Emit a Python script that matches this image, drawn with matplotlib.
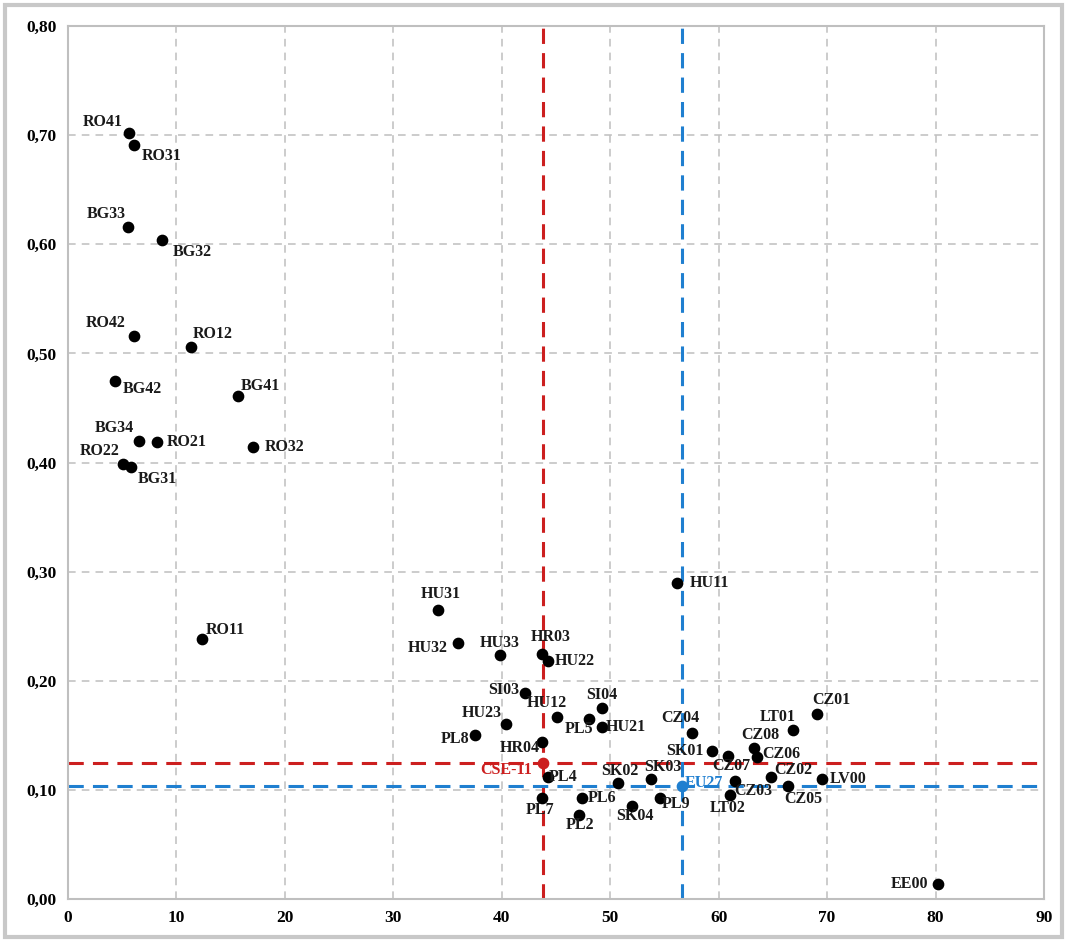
import numpy as np
import matplotlib
matplotlib.use('Agg')
import matplotlib.pyplot as plt
from matplotlib.ticker import FuncFormatter, MultipleLocator
from matplotlib.patches import Rectangle

# regions: x value, y value
regions = ['RO41', 'RO31', 'BG33', 'BG32', 'RO42', 'RO12', 'BG42', 'BG41', 'BG34', 'RO21',
           'RO32', 'RO22', 'BG31', 'RO11', 'HU31', 'HU32', 'HU33', 'HR03', 'HU22', 'HU11',
           'SI03', 'SI04', 'HU12', 'PL5', 'HU21', 'HU23', 'PL8', 'HR04', 'PL4', 'SK02',
           'SK03', 'PL7', 'PL6', 'PL2', 'SK04', 'PL9', 'CZ04', 'SK01', 'CZ07', 'CZ08',
           'CZ06', 'LT01', 'CZ01', 'CZ02', 'CZ05', 'LV00', 'CZ03', 'LT02', 'EE00']
x_vals = [5.65, 6.09, 5.56, 8.70, 6.09, 11.37, 4.36, 15.71, 6.55, 8.21,
          17.04, 5.05, 5.81, 12.36, 34.16, 36.0, 39.88, 43.70, 44.25, 56.15,
          42.19, 49.23, 45.05, 48.03, 49.23, 40.38, 37.52, 43.73, 44.25, 50.71,
          53.72, 43.70, 47.39, 47.17, 52.03, 54.55, 57.56, 59.38, 60.89, 63.22,
          63.53, 66.85, 69.07, 64.85, 66.36, 69.56, 61.50, 61.04, 80.2]
y_vals = [0.702, 0.691, 0.616, 0.604, 0.516, 0.506, 0.475, 0.461, 0.420, 0.419,
          0.414, 0.399, 0.396, 0.238, 0.265, 0.235, 0.224, 0.225, 0.218, 0.290,
          0.189, 0.175, 0.167, 0.165, 0.158, 0.160, 0.150, 0.144, 0.112, 0.106,
          0.110, 0.093, 0.093, 0.077, 0.085, 0.093, 0.152, 0.136, 0.131, 0.138,
          0.130, 0.155, 0.170, 0.112, 0.104, 0.110, 0.108, 0.095, 0.014]

# reference averages
cse_x, cse_y = 43.79, 0.125
eu_x, eu_y = 56.64, 0.104

# label offsets in pixels (dx, dy)
offsets = {
    'RO41': (-27, 11), 'RO31': (28, -11), 'BG33': (-22, 13), 'BG32': (30, -12),
    'RO42': (-28, 13), 'RO12': (21, 13), 'BG42': (27, -8), 'BG41': (22, 10),
    'BG34': (-25, 13), 'RO21': (30, 0), 'RO32': (32, 0), 'RO22': (-23, 13),
    'BG31': (26, -12), 'RO11': (23, 9), 'HU31': (2, 16), 'HU32': (-31, -5),
    'HU33': (-1, 12), 'HR03': (9, 17), 'HU22': (27, 0), 'HU11': (33, 0),
    'SI03': (-22, 3), 'SI04': (0, 13), 'HU12': (-10, 14), 'PL5': (-10, -10),
    'HU21': (24, 0), 'HU23': (-24, 11), 'PL8': (-20, -4), 'HR04': (-22, -6),
    'PL4': (15, 0), 'PL7': (-2, -12), 'PL6': (20, 0), 'PL2': (1, -10),
    'SK02': (2, 12), 'SK03': (12, 12), 'SK04': (3, -10), 'PL9': (17, -6),
    'CZ04': (-12, 15), 'SK01': (-27, 0), 'CZ07': (3, -10), 'CZ08': (7, 13),
    'CZ06': (24, 3), 'LT01': (-15, 13), 'CZ01': (14, 14), 'CZ02': (22, 7),
    'CZ05': (16, -13), 'LV00': (26, 0), 'CZ03': (18, -10), 'LT02': (-2, -13),
    'EE00': (-28, 0),
}

plt.rcParams['font.family'] = 'Liberation Serif'
plt.rcParams['font.weight'] = 'bold'

red = '#cc1f1f'
blue = '#1f7fd0'

fig = plt.figure(figsize=(10.67, 9.42), dpi=100)
ax = fig.add_axes([0.0637, 0.0456, 0.9147, 0.9268])

fig.patches.append(Rectangle((0.005, 0.005), 0.99, 0.99, transform=fig.transFigure,
                             fill=False, edgecolor='#c8c8c8', linewidth=3))

ax.set_xlim(0, 90)
ax.set_ylim(0, 0.8)
ax.xaxis.set_major_locator(MultipleLocator(10))
ax.yaxis.set_major_locator(MultipleLocator(0.1))
ax.yaxis.set_major_formatter(FuncFormatter(lambda v, p: ('%.2f' % v).replace('.', ',')))
ax.grid(True, color='#bfbfbf', linestyle=(0, (5, 4)), linewidth=1.1)
ax.set_axisbelow(True)
ax.tick_params(length=0, labelsize=12.5, pad=8)
for s in ax.spines.values():
    s.set_color('#bfbfbf')
    s.set_linewidth(1.5)

ax.axvline(cse_x, color=red, linestyle=(0, (5, 3)), linewidth=2.2, zorder=2)
ax.axhline(cse_y, color=red, linestyle=(0, (5, 3)), linewidth=2.2, zorder=2)
ax.axvline(eu_x, color=blue, linestyle=(0, (5, 3)), linewidth=2.2, zorder=2)
ax.axhline(eu_y, color=blue, linestyle=(0, (5, 3)), linewidth=2.2, zorder=2)

ax.scatter(x_vals, y_vals, s=55, color='black', zorder=3)
for name, x, y in zip(regions, x_vals, y_vals):
    ax.annotate(name, (x, y), xytext=offsets[name], textcoords='offset pixels',
                ha='center', va='center', fontsize=11.5, fontweight='bold', color='#1a1a1a')

ax.scatter([cse_x], [cse_y], s=55, color=red, zorder=3)
ax.annotate('CSE-11', (cse_x, cse_y), xytext=(-37, -7), textcoords='offset pixels',
            ha='center', va='center', fontsize=11.5, fontweight='bold', color=red)
ax.scatter([eu_x], [eu_y], s=55, color=blue, zorder=3)
ax.annotate('EU27', (eu_x, eu_y), xytext=(22, 3), textcoords='offset pixels',
            ha='center', va='center', fontsize=11.5, fontweight='bold', color=blue)

fig.savefig('out.png', dpi=100)
